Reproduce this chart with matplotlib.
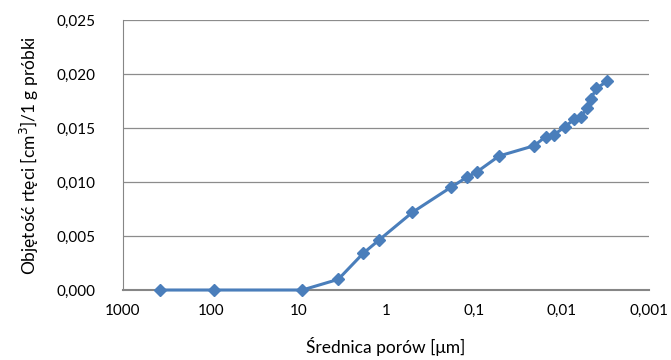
import matplotlib
matplotlib.use('Agg')
import matplotlib.pyplot as plt
from matplotlib.ticker import FixedLocator, FuncFormatter

plt.rcParams['font.family'] = ['Lato', 'DejaVu Sans']

# średnica porów [um] i objętość rtęci [cm3/g]
srednica = [378, 92, 9.0, 3.5, 1.82, 1.2, 0.50, 0.182, 0.12, 0.091, 0.0513,
            0.0204, 0.0151, 0.0122, 0.0091, 0.00714, 0.00602, 0.00508,
            0.00461, 0.00398, 0.00298]
objetosc = [0.0, 0.0, 0.0, 0.00099, 0.0034, 0.00463, 0.00719, 0.00951,
            0.01043, 0.01096, 0.01241, 0.01336, 0.0142, 0.01435, 0.01512,
            0.0158, 0.01605, 0.01682, 0.01769, 0.01867, 0.01935]

x_ticks = [1000, 100, 10, 1, 0.1, 0.01, 0.001]
x_labels = ['1000', '100', '10', '1', '0,1', '0,01', '0,001']
y_ticks = [0.0, 0.005, 0.010, 0.015, 0.020, 0.025]

fig = plt.figure(figsize=(6.71, 3.6), dpi=100)
ax = fig.add_axes([0.1833, 0.1944, 0.7839, 0.75])

kolor = '#4A7EBB'
ax.plot(srednica, objetosc, color=kolor, linewidth=2.2, marker='D',
        markersize=6.5, markerfacecolor=kolor, markeredgecolor=kolor,
        clip_on=False, zorder=3)

ax.set_xscale('log')
ax.set_xlim(1000, 0.001)
ax.set_ylim(0, 0.025)
ax.xaxis.set_major_locator(FixedLocator(x_ticks))
ax.xaxis.set_minor_locator(FixedLocator([]))
ax.set_xticks(x_ticks)
ax.set_xticklabels(x_labels)
ax.set_yticks(y_ticks)
ax.yaxis.set_major_formatter(FuncFormatter(lambda v, p: f'{v:.3f}'.replace('.', ',')))

ax.yaxis.grid(True, color='#8C8C8C', linewidth=0.9)
ax.set_axisbelow(True)
for s in ['top', 'right']:
    ax.spines[s].set_visible(False)
ax.spines['left'].set_color('#868686')
ax.spines['bottom'].set_color('#868686')
ax.spines['bottom'].set_linewidth(1.5)
ax.tick_params(axis='both', length=0, labelsize=11, colors='black')
ax.tick_params(axis='x', pad=10)
ax.tick_params(axis='y', pad=20)

ax.set_xlabel('Średnica porów [μm]', fontsize=12.5, labelpad=14)
ax.set_ylabel('Objętość rtęci [cm$^3$]/1 g próbki', fontsize=12.5, labelpad=11)

plt.savefig('out.png', dpi=100)
